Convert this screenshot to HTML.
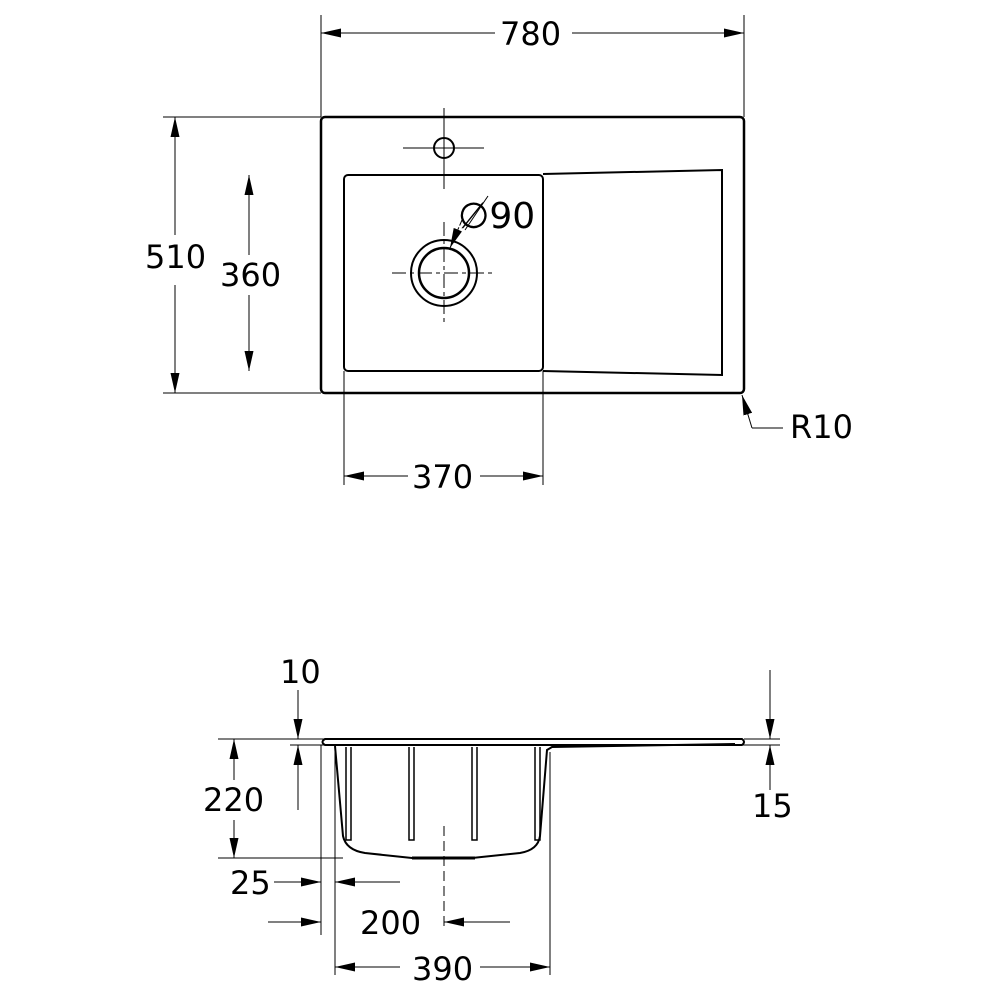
<!DOCTYPE html>
<html><head><style>body{margin:0;background:#fff}svg{display:block}text{font-family:"DejaVu Sans","Liberation Sans",sans-serif;font-size:32px;fill:#000}</style></head>
<body>
<svg width="1000" height="1000" viewBox="0 0 1000 1000" xmlns="http://www.w3.org/2000/svg">
<defs><marker id="a" viewBox="0 0 20 9" refX="20" refY="4.5" markerWidth="20" markerHeight="9" markerUnits="userSpaceOnUse" orient="auto-start-reverse"><path d="M0,0L20,4.5L0,9z"/></marker></defs>
<g stroke="#000" fill="none" stroke-width="1">
<line x1="321" y1="15" x2="321" y2="117"/><line x1="744" y1="15" x2="744" y2="117"/>
<line x1="163" y1="117" x2="321" y2="117"/><line x1="163" y1="393" x2="321" y2="393"/>
<line x1="344" y1="371" x2="344" y2="485"/><line x1="543" y1="371" x2="543" y2="485"/>
<line x1="321" y1="33" x2="495" y2="33" marker-start="url(#a)"/><line x1="572" y1="33" x2="744" y2="33" marker-end="url(#a)"/>
<line x1="175" y1="117" x2="175" y2="235" marker-start="url(#a)"/><line x1="175" y1="285" x2="175" y2="393" marker-end="url(#a)"/>
<line x1="249" y1="175" x2="249" y2="255" marker-start="url(#a)"/><line x1="249" y1="295" x2="249" y2="371" marker-end="url(#a)"/>
<line x1="344" y1="476" x2="408" y2="476" marker-start="url(#a)"/><line x1="480" y1="476" x2="543" y2="476" marker-end="url(#a)"/>
<rect x="321" y="117" width="423" height="276" rx="4" stroke-width="2.5"/>
<rect x="344" y="175" width="199" height="196" rx="4" stroke-width="2"/>
<path d="M543,174 L722,170 L722,375 L543,371" stroke-width="2"/>
<circle cx="444" cy="148" r="10" stroke-width="2"/>
<line x1="403" y1="148" x2="484" y2="148"/><line x1="444" y1="108" x2="444" y2="189"/>
<circle cx="444" cy="273" r="33" stroke-width="2"/><circle cx="444" cy="273" r="25" stroke-width="2.5"/>
<line x1="392" y1="273" x2="496" y2="273" stroke-dasharray="14,4,4,4"/><line x1="444" y1="222" x2="444" y2="325" stroke-dasharray="14,4,4,4"/>
<line x1="462" y1="220" x2="450" y2="248" marker-end="url(#a)" stroke-dasharray="6,2"/>
<line x1="465" y1="230" x2="488" y2="196"/>
<line x1="742" y1="395" x2="752" y2="428" marker-start="url(#a)"/><line x1="752" y1="428" x2="783" y2="428"/>
<path d="M325,739 L742,739 Q746,742 742,745 L325,745 Q320,742 325,739z" stroke-width="2"/>
<path d="M335,746 L343,836 Q346,850 365,853 L412,858 L472,858 L520,853 Q538,850 540,836 L547,750 L552,747 L735,744" stroke-width="2"/>
<line x1="335" y1="749" x2="335" y2="858"/>
<g stroke-width="1.5"><path d="M346,747V840h5V747"/><path d="M409,747V840h5V747"/><path d="M472,747V840h5V747"/><path d="M535,747V840h5V747"/></g>
<line x1="412" y1="858" x2="475" y2="858" stroke-width="3"/>
<line x1="444" y1="826" x2="444" y2="930" stroke-dasharray="10,5"/>
<line x1="290" y1="739" x2="330" y2="739"/><line x1="290" y1="745" x2="330" y2="745"/>
<line x1="298" y1="690" x2="298" y2="739" marker-end="url(#a)"/><line x1="298" y1="810" x2="298" y2="745" marker-end="url(#a)"/>
<line x1="218" y1="739" x2="321" y2="739"/><line x1="218" y1="858" x2="343" y2="858"/>
<line x1="234" y1="739" x2="234" y2="780" marker-start="url(#a)"/><line x1="234" y1="820" x2="234" y2="858" marker-end="url(#a)"/>
<line x1="321" y1="745" x2="321" y2="935"/><line x1="335" y1="858" x2="335" y2="975"/><line x1="550" y1="752" x2="550" y2="975"/>
<line x1="274" y1="882" x2="321" y2="882" marker-end="url(#a)"/><line x1="400" y1="882" x2="335" y2="882" marker-end="url(#a)"/>
<line x1="268" y1="922" x2="321" y2="922" marker-end="url(#a)"/><line x1="510" y1="922" x2="444" y2="922" marker-end="url(#a)"/>
<line x1="335" y1="967" x2="400" y2="967" marker-start="url(#a)"/><line x1="480" y1="967" x2="550" y2="967" marker-end="url(#a)"/>
<line x1="744" y1="739" x2="780" y2="739"/><line x1="735" y1="745" x2="780" y2="745"/>
<line x1="770" y1="670" x2="770" y2="739" marker-end="url(#a)"/><line x1="770" y1="790" x2="770" y2="745" marker-end="url(#a)"/>
</g>
<text x="500" y="45">780</text>
<text x="145" y="268">510</text>
<text x="220" y="286">360</text>
<text x="412" y="488">370</text>
<text x="458" y="228" style="font-size:36px">∅90</text>
<text x="790" y="438">R10</text>
<text x="280" y="683">10</text>
<text x="203" y="811">220</text>
<text x="230" y="894">25</text>
<text x="360" y="934">200</text>
<text x="412" y="980">390</text>
<text x="752" y="817">15</text>
</svg>
</body></html>
